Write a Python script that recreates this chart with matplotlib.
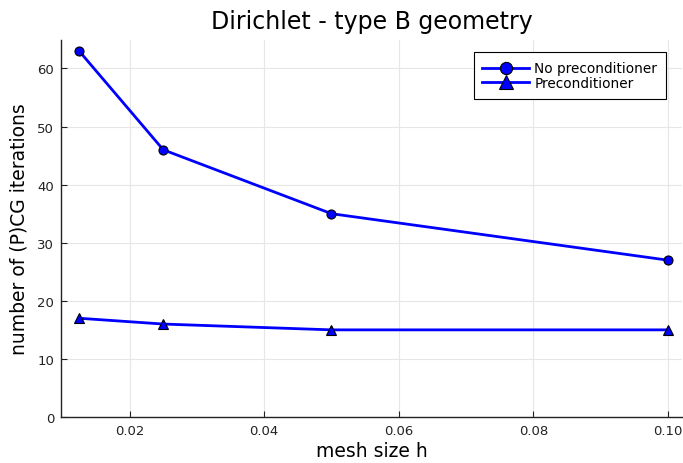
import numpy as np
import matplotlib.pyplot as plt

# mesh sizes and iteration counts
h = [0.0125, 0.025, 0.05, 0.1]
iters_no_prec = [63, 46, 35, 27]
iters_prec = [17, 16, 15, 15]

fig = plt.figure(figsize=(6.83, 4.64), dpi=100)
ax = fig.add_axes([61 / 683, 1 - 418 / 464, 621 / 683, 377 / 464])

ax.plot(h, iters_no_prec, color="blue", lw=2, marker="o", ms=6.5,
        mec="black", mew=0.8, label="No preconditioner")
ax.plot(h, iters_prec, color="blue", lw=2, marker="^", ms=7,
        mec="black", mew=0.8, label="Preconditioner")

ax.set_xlim(0.0098, 0.1021)
ax.set_ylim(0, 64.9)
ax.set_xticks([0.02, 0.04, 0.06, 0.08, 0.10])
ax.set_xticklabels(["0.02", "0.04", "0.06", "0.08", "0.10"])
ax.set_yticks([0, 10, 20, 30, 40, 50, 60])

ax.grid(True, color="#e6e6e6", lw=0.8)
ax.set_axisbelow(True)
for s in ["top", "right"]:
    ax.spines[s].set_visible(False)
for s in ["left", "bottom"]:
    ax.spines[s].set_color("#222222")
    ax.spines[s].set_linewidth(1.0)
ax.tick_params(direction="in", length=4, labelsize=9.5, colors="#222222", pad=5)

ax.set_xlabel("mesh size h", fontsize=13.5, labelpad=3)
ax.set_ylabel("number of (P)CG iterations", fontsize=13.5, labelpad=6)
ax.set_title("Dirichlet - type B geometry", fontsize=17, pad=9)

leg = ax.legend(loc="upper right", bbox_to_anchor=(0.985, 0.985), fontsize=9.8,
                fancybox=False, framealpha=1, edgecolor="black",
                borderpad=0.65, handlelength=3.4, labelspacing=0.05,
                handletextpad=0.4, markerscale=1.35)
leg.get_frame().set_linewidth(0.8)

fig.savefig("out.png", dpi=100)
